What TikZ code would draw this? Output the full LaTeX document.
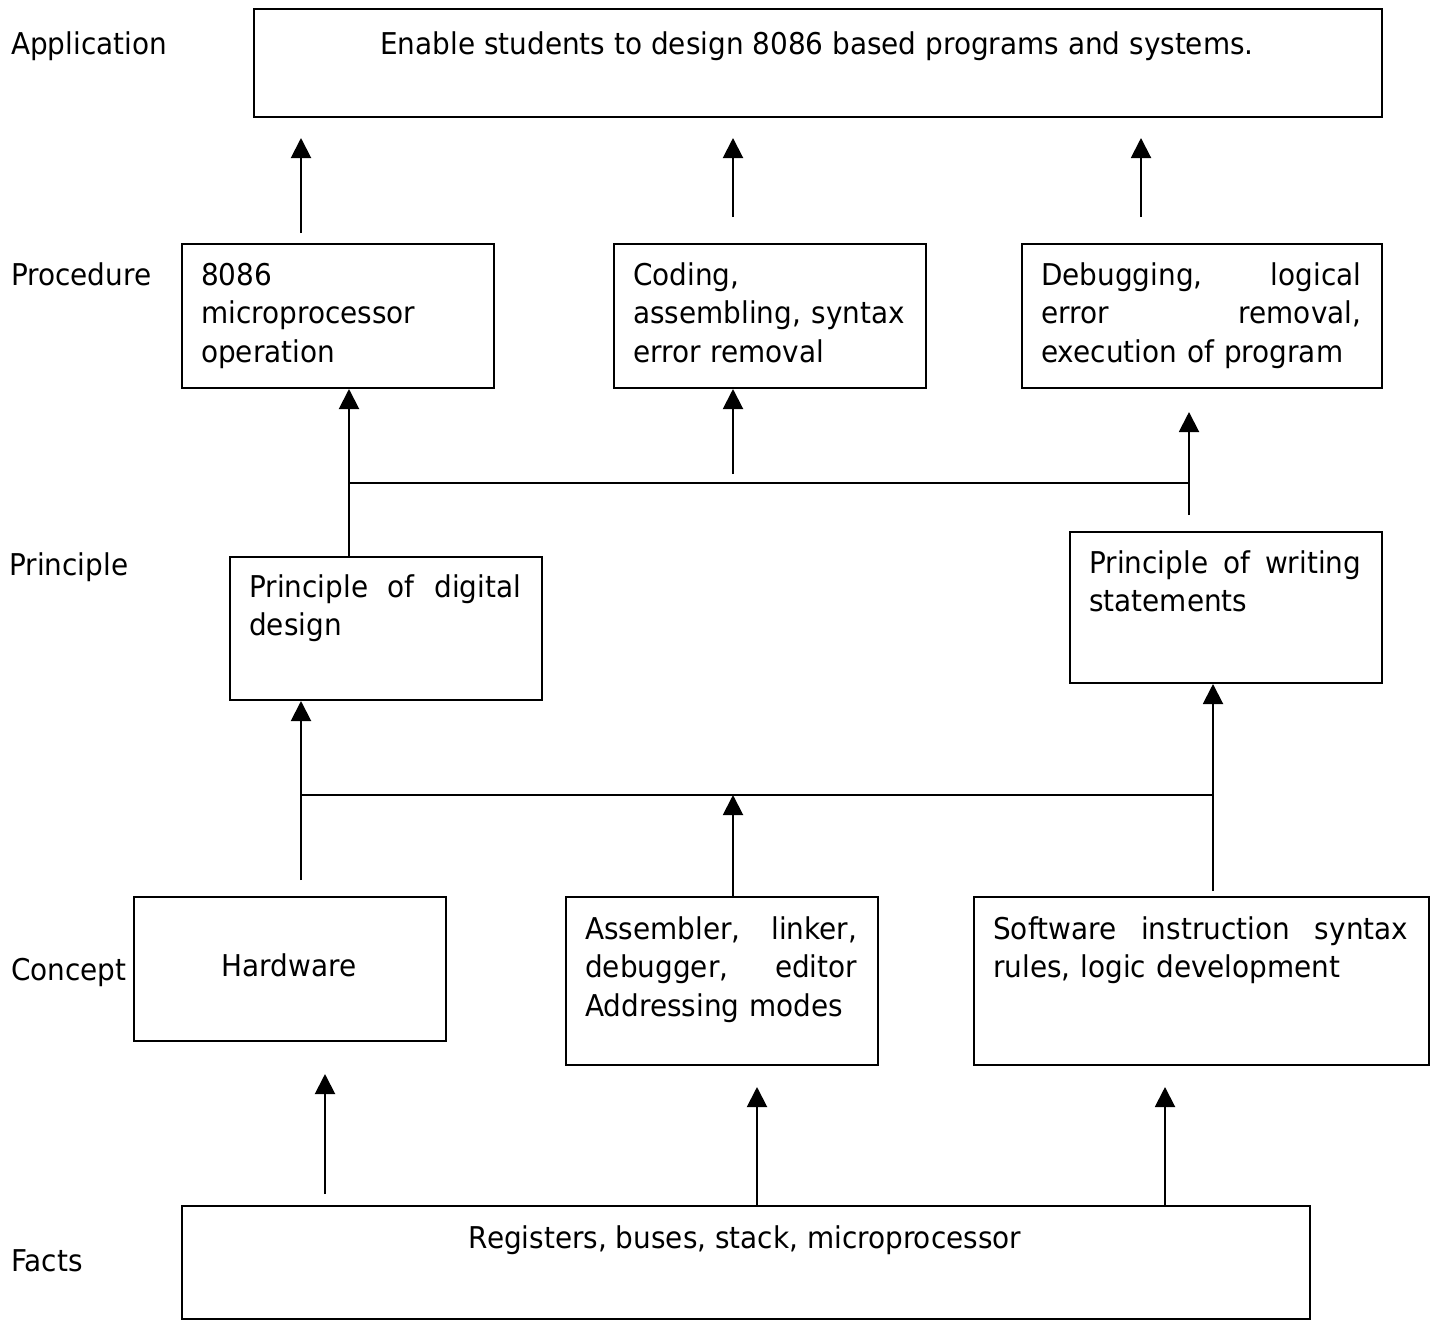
\documentclass[tikz,border=0pt]{standalone}
\usepackage{fontspec}
\setmainfont{DejaVu Sans}[FakeStretch=0.93]
\usetikzlibrary{arrows.meta}
\newcommand\jline[2]{\leavevmode\hbox to #1{#2}}
\begin{document}
\begin{tikzpicture}[x=1pt,y=-1pt,
  box/.style={draw, line width=2pt, inner sep=0pt, anchor=north west},
  txt/.style={inner sep=0pt, font=\fontsize{30}{38.5}\selectfont},
  btxt/.style={txt, anchor=base west, align=left},
  arr/.style={line width=2pt, -{Triangle[width=20pt,length=20pt]}},
  ln/.style={line width=2pt}]
\useasboundingbox (0,0) rectangle (1438,1326);

% level labels
\node[txt, anchor=base west] (lApp) at (11,54) {Application};
\node[txt, anchor=base west] (lProc) at (11,285) {Procedure};
\node[txt, anchor=base west] (lPrin) at (9,575) {Principle};
\node[txt, anchor=base west] (lCon) at (11,980) {Concept};
\node[txt, anchor=base west] (lFact) at (11,1271) {Facts};

% boxes
\node[box, minimum width=1128pt, minimum height=108pt] (app) at (253,8) {};
\node[box, minimum width=312pt, minimum height=144pt] (proc1) at (181,243) {};
\node[box, minimum width=312pt, minimum height=144pt] (proc2) at (613,243) {};
\node[box, minimum width=360pt, minimum height=144pt] (proc3) at (1021,243) {};
\node[box, minimum width=312pt, minimum height=143pt] (prin1) at (229,556) {};
\node[box, minimum width=312pt, minimum height=151pt] (prin2) at (1069,531) {};
\node[box, minimum width=312pt, minimum height=144pt] (con1) at (133,896) {};
\node[box, minimum width=312pt, minimum height=168pt] (con2) at (565,896) {};
\node[box, minimum width=455pt, minimum height=168pt] (con3) at (973,896) {};
\node[box, minimum width=1128pt, minimum height=113pt] (facts) at (181,1205) {};

% box texts
\node[txt, anchor=base] (tapp) at (817,54) {Enable students to design 8086 based programs and systems.};
\node[btxt, text width=272pt] (tproc1) at (201,285) {8086\\microprocessor\\operation};
\node[btxt, text width=272pt] (tproc2) at (633,285) {Coding,\\\jline{272pt}{assembling,\hfill syntax}\\error removal};
\node[btxt, text width=320pt] (tproc3) at (1041,285) {\jline{320pt}{Debugging,\hfill logical}\\\jline{320pt}{error\hfill removal,}\\execution of program};
\node[btxt, text width=272pt] (tprin1) at (249,597) {\jline{272pt}{Principle\hfill of\hfill digital}\\design};
\node[btxt, text width=272pt] (tprin2) at (1089,573) {\jline{272pt}{Principle\hfill of\hfill writing}\\statements};
\node[txt, anchor=base] (tcon1) at (289,976) {Hardware};
\node[btxt, text width=272pt] (tcon2) at (585,939) {\jline{272pt}{Assembler,\hfill linker,}\\\jline{272pt}{debugger,\hfill editor}\\Addressing modes};
\node[btxt, text width=415pt] (tcon3) at (993,939) {\jline{415pt}{Software\hfill instruction\hfill syntax}\\rules, logic development};
\node[txt, anchor=base] (tfacts) at (745,1248) {Registers, buses, stack, microprocessor};

% connector points
\coordinate (a1s) at (301,233); \coordinate (a1e) at (301,138);
\coordinate (a2s) at (733,217); \coordinate (a2e) at (733,138);
\coordinate (a3s) at (1141,217); \coordinate (a3e) at (1141,138);
\coordinate (j2l) at (349,483); \coordinate (j2r) at (1189,483);
\coordinate (m2) at (733,474);
\coordinate (r2s) at (1189,515); \coordinate (r2e) at (1189,412);
\coordinate (l3s) at (301,880); \coordinate (j3l) at (301,795);
\coordinate (j3m) at (733,795); \coordinate (j3r) at (1213,795);
\coordinate (r3s) at (1213,891);
\coordinate (f1s) at (325,1194); \coordinate (f1e) at (325,1074);
\coordinate (f2) at (757,1205); \coordinate (f2e) at (757,1087);
\coordinate (f3) at (1165,1205); \coordinate (f3e) at (1165,1087);

% procedure -> application
\draw[arr] (a1s) -- (a1e);
\draw[arr] (a2s) -- (a2e);
\draw[arr] (a3s) -- (a3e);

% principle -> procedure
\draw[arr] (prin1.north -| j2l) -- (proc1.south -| j2l);
\draw[ln] (j2l) -- (j2r);
\draw[arr] (m2) -- (proc2.south -| m2);
\draw[arr] (r2s) -- (r2e);

% concept -> principle
\draw[arr] (l3s) -- (prin1.south -| l3s);
\draw[ln] (j3l) -- (j3r);
\draw[arr] (con2.north -| j3m) -- (j3m);
\draw[arr] (r3s) -- (prin2.south -| r3s);

% facts -> concept
\draw[arr] (f1s) -- (f1e);
\draw[arr] (facts.north -| f2) -- (f2e);
\draw[arr] (facts.north -| f3) -- (f3e);
\end{tikzpicture}
\end{document}
